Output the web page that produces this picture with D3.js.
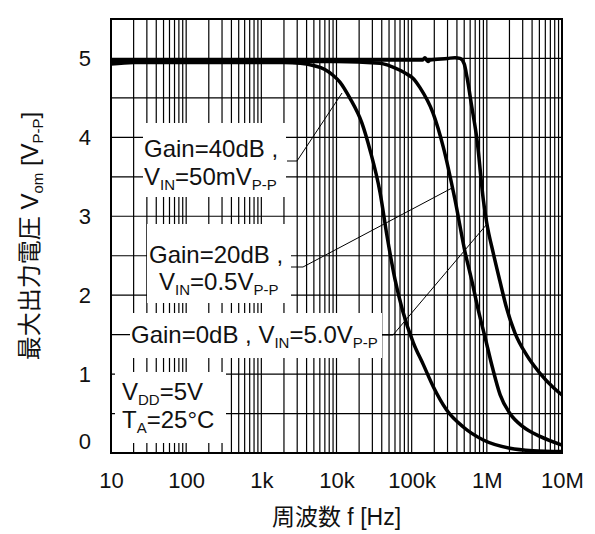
<!DOCTYPE html>
<html>
<head>
<meta charset="utf-8">
<script src="https://cdn.jsdelivr.net/npm/d3@7"></script>
<style>
  body { margin: 0; background: #fff; }
  text { font-family: "Liberation Sans", Arial, "Noto Sans CJK JP", sans-serif; fill: #111; }
</style>
</head>
<body>
<div id="chart"></div>
<script>
// frequency [Hz] and max output voltage [Vp-p]
const freq40 = [10, 20, 50, 100, 300, 1000, 2000, 3300, 4900, 7000, 8900, 11100, 15000, 21800, 27900, 38000, 47000, 60000, 76000, 105000, 143000, 194000, 292000, 486000, 898000, 2030000, 4100000, 10000000];
const vout40 = [4.93, 4.95, 4.95, 4.95, 4.95, 4.95, 4.95, 4.94, 4.91, 4.86, 4.79, 4.70, 4.50, 4.18, 3.84, 3.30, 2.75, 2.20, 1.80, 1.40, 1.12, 0.84, 0.545, 0.33, 0.165, 0.06, 0.03, 0.02];

const freq20 = [10, 100, 1000, 10000, 38000, 50000, 70000, 87000, 104000, 129000, 192000, 263000, 377000, 512000, 629000, 770000, 945000, 1190000, 1500000, 2030000, 3050000, 5100000, 10000000];
const vout20 = [4.95, 4.96, 4.96, 4.96, 4.94, 4.91, 4.85, 4.80, 4.75, 4.63, 4.31, 3.88, 3.21, 2.55, 2.19, 1.81, 1.47, 1.08, 0.74, 0.50, 0.33, 0.21, 0.10];

const freq0 = [10, 100, 1000, 10000, 100000, 140000, 150000, 158000, 165000, 175000, 300000, 377000, 440000, 500000, 543000, 630000, 740000, 898000, 995000, 1220000, 1500000, 1840000, 2370000, 3390000, 5100000, 7660000, 10000000];
const vout0 = [4.97, 4.97, 4.98, 4.98, 4.98, 4.98, 5.01, 4.98, 4.96, 4.98, 5.00, 5.01, 5.00, 4.93, 4.77, 4.39, 3.97, 3.21, 2.92, 2.53, 2.17, 1.83, 1.52, 1.24, 1.01, 0.83, 0.735];

const xTickValues = [10, 100, 1000, 10000, 100000, 1000000, 10000000];
const xTickLabels = ['10', '100', '1k', '10k', '100k', '1M', '10M'];
const yTickValues = [0, 1, 2, 3, 4, 5];

const width = 595, height = 534;
const margin = { top: 19, right: 33, bottom: 81, left: 111 };

const svg = d3.select('#chart')
  .append('svg')
  .attr('width', width)
  .attr('height', height);

const x = d3.scaleLog()
  .domain([10, 1e7])
  .range([margin.left, width - margin.right]);

const y = d3.scaleLinear()
  .domain([0, 5.5])
  .range([height - margin.bottom, margin.top]);

// grid: 1..9 per decade, every 0.5 V
const xGrid = [];
for (let d = 10; d < 1e7; d *= 10) {
  for (let k = 2; k <= 9; k++) xGrid.push(d * k);
}
const yGrid = d3.range(0.5, 5.5, 0.5);

const grid = svg.append('g').attr('stroke', '#000').attr('stroke-width', 1.2);
grid.selectAll('.vg')
  .data(xGrid.concat(xTickValues.slice(1, -1)))
  .join('line')
  .attr('x1', d => x(d)).attr('x2', d => x(d))
  .attr('y1', y(0)).attr('y2', y(5.5));
grid.selectAll('.hg')
  .data(yGrid)
  .join('line')
  .attr('x1', x(10)).attr('x2', x(1e7))
  .attr('y1', d => y(d)).attr('y2', d => y(d));

// white boxes behind annotations
const boxes = [
  [143, 123, 286, 197],
  [147, 224, 291, 303],
  [130, 313, 382, 358],
  [115, 372, 226, 443]
];
svg.append('g').selectAll('rect')
  .data(boxes)
  .join('rect')
  .attr('x', d => d[0]).attr('y', d => d[1])
  .attr('width', d => d[2] - d[0]).attr('height', d => d[3] - d[1])
  .attr('fill', '#fff');

// curves
const line = d3.line()
  .x(d => x(d[0]))
  .y(d => y(d[1]))
  .curve(d3.curveMonotoneX);

const series = [
  d3.zip(freq40, vout40),
  d3.zip(freq20, vout20),
  d3.zip(freq0, vout0)
];
svg.append('g').selectAll('path')
  .data(series)
  .join('path')
  .attr('d', line)
  .attr('fill', 'none')
  .attr('stroke', '#000')
  .attr('stroke-width', 3.5)
  .attr('stroke-linejoin', 'round');

// leader lines
const leaders = [
  [[287, 161], [297, 161], [342, 93]],
  [[291, 267], [303, 267], [452, 188]],
  [[382, 335], [393, 335], [487, 224]]
];
svg.append('g').selectAll('path')
  .data(leaders)
  .join('path')
  .attr('d', d3.line())
  .attr('fill', 'none')
  .attr('stroke', '#000')
  .attr('stroke-width', 1);

// annotation text, parts: [text, isSub]
function label(px, py, parts, size) {
  const t = svg.append('text').attr('x', px).attr('y', py).style('font-size', size + 'px');
  let down = false;
  parts.forEach(p => {
    const s = t.append('tspan').text(p[0]);
    if (p[1] && !down) { s.attr('dy', 5).style('font-size', '15px'); down = true; }
    else if (p[1]) { s.style('font-size', '15px'); }
    else if (down) { s.attr('dy', -5); down = false; }
  });
  return t;
}

label(144, 157, [['Gain=40dB ,']], 24);
label(144, 185, [['V'], ['IN', 1], ['=50mV'], ['P-P', 1]], 24);
label(149, 263, [['Gain=20dB ,']], 24);
label(159, 290, [['V'], ['IN', 1], ['=0.5V'], ['P-P', 1]], 24);
label(131, 343, [['Gain=0dB , V'], ['IN', 1], ['=5.0V'], ['P-P', 1]], 24);
label(122, 400, [['V'], ['DD', 1], ['=5V']], 24);
label(122, 428, [['T'], ['A', 1], ['=25°C']], 24);

// frame
svg.append('rect')
  .attr('x', x(10)).attr('y', y(5.5))
  .attr('width', x(1e7) - x(10)).attr('height', y(0) - y(5.5))
  .attr('fill', 'none')
  .attr('stroke', '#000')
  .attr('stroke-width', 2);

// axes
const xAxis = svg.append('g')
  .attr('transform', `translate(0,${y(0)})`)
  .call(d3.axisBottom(x).tickValues(xTickValues).tickFormat((d, i) => xTickLabels[i]).tickSize(0).tickPadding(19));
xAxis.select('.domain').remove();
xAxis.selectAll('text').style('font-size', '22px').attr('fill', '#111');

const yAxis = svg.append('g')
  .attr('transform', `translate(${x(10)},0)`)
  .call(d3.axisLeft(y).tickValues(yTickValues).tickFormat(d3.format('d')).tickSize(0).tickPadding(20));
yAxis.select('.domain').remove();
yAxis.selectAll('text')
  .style('font-size', '22px')
  .attr('fill', '#111')
  .attr('y', d => d === 0 ? -12 : 0);

// axis titles
svg.append('text')
  .attr('x', (x(10) + x(1e7)) / 2)
  .attr('y', 525)
  .attr('text-anchor', 'middle')
  .style('font-size', '23px')
  .text('周波数 f [Hz]');

const yt = svg.append('text')
  .attr('transform', `translate(38,${(y(0) + y(5.5)) / 2}) rotate(-90)`)
  .attr('text-anchor', 'middle')
  .style('font-size', '24px');
yt.append('tspan').text('最大出力電圧 V');
yt.append('tspan').text('om').attr('dy', 5).style('font-size', '15px');
yt.append('tspan').text(' [V').attr('dy', -5);
yt.append('tspan').text('P-P').attr('dy', 5).style('font-size', '15px');
yt.append('tspan').text(']').attr('dy', -5);
</script>
</body>
</html>
